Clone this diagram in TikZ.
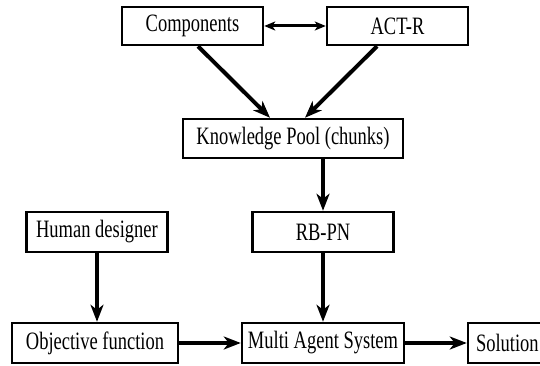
\documentclass[tikz,border=0pt]{standalone}
\usepackage{fontspec}
\setmainfont{Liberation Serif}[FakeStretch=0.74]
\usetikzlibrary{arrows.meta,calc}

\tikzset{
  box/.style={draw=black, line width=2.5pt, fill=white, inner sep=0pt,
              minimum height=40pt, font=\fontsize{25}{29}\selectfont},
  flow/.style={line width=4pt, -{Stealth[length=17pt, width=13pt, inset=5pt]}},
  link/.style={line width=3pt, {Stealth[length=11pt, width=9pt, inset=3pt]}-{Stealth[length=11pt, width=9pt, inset=3pt]}}
}

\begin{document}
\begin{tikzpicture}[x=1pt, y=-1pt]
  \useasboundingbox (0,0) rectangle (540,366);
  \clip (0,0) rectangle (540,366);

  % top row
  \node[box, minimum width=141pt, minimum height=38pt] (comp) at (192.5,26) {Components};
  \node[box, minimum width=141pt, minimum height=38pt] (actr) at (397.5,26) {ACT-R};

  % knowledge pool
  \node[box, minimum width=220pt, minimum height=39pt] (kp) at (293,138.5) {Knowledge Pool (chunks)};

  % middle row
  \node[box, minimum width=141pt] (human) at (97,232) {Human designer};
  \node[box, minimum width=141pt] (rbpn) at (323,232) {RB-PN};

  % bottom row
  \node[box, minimum width=166pt] (obj) at (95,343) {Objective function};
  \node[box, minimum width=162pt] (mas) at (323,343) {Multi Agent System};
  \node[box, minimum width=92pt, text width=76pt, align=left] (sol) at (514,343) {Solution};

  % connectors
  \draw[link] (comp.east) -- (actr.west);
  \draw[flow] ([xshift=5.5pt]comp.south) -- ([xshift=-23pt]kp.north);
  \draw[flow] ([xshift=-20.5pt]actr.south) -- ([xshift=12pt]kp.north);
  \draw[flow] (rbpn.north |- kp.south) -- (rbpn.north);
  \draw[flow] (rbpn.south) -- (mas.north);
  \draw[flow] (human.south) -- (human.south |- obj.north);
  \draw[flow] (obj.east) -- (mas.west);
  \draw[flow] (mas.east) -- (sol.west);
\end{tikzpicture}
\end{document}
